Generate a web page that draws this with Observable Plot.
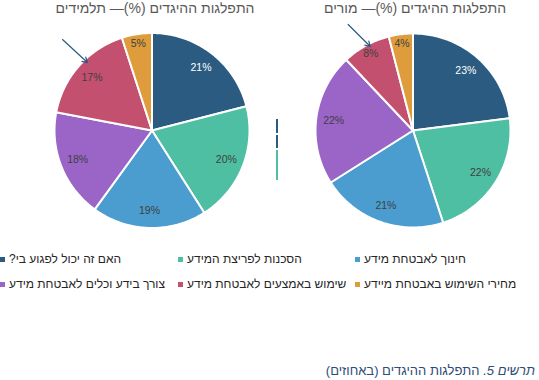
<!DOCTYPE html>
<html><head><meta charset="utf-8">
<script src="https://cdn.jsdelivr.net/npm/d3@7"></script>
<script src="https://cdn.jsdelivr.net/npm/@observablehq/plot@0.6"></script>
<style>
body{margin:0;background:#fff;font-family:"Liberation Sans",Arial,sans-serif;}
#wrap{position:relative;width:539px;height:380px;overflow:hidden;background:#fff;}
.plot{position:absolute;top:0;}
.title{position:absolute;top:0;font-size:14px;color:#595959;direction:rtl;white-space:nowrap;transform:translateX(-50%);}
.leg{position:absolute;display:flex;align-items:center;font-size:12px;color:#262626;white-space:nowrap;}
.leg i{display:inline-block;width:5px;height:5px;margin-right:4px;}
.leg span{direction:rtl;}
.cap{position:absolute;right:4px;font-size:13px;color:#2E4A78;direction:rtl;white-space:nowrap;}
</style></head><body><div id="wrap"></div>
<script>
const categories = ["האם זה יכול לפגוע בי?","הסכנות לפריצת המידע","חינוך לאבטחת מידע","צורך בידע וכלים לאבטחת מידע","שימוש באמצעים לאבטחת מידע","מחירי השימוש באבטחת מיידע"];
const studentValues = [21,20,19,18,17,5];
const teacherValues = [23,22,21,22,8,4];
const colors = ["#2B5B80","#4FBFA3","#4A9DCE","#9A65C7","#C4506F","#DF9C3C"];
const titles = ["התפלגות ההיגדים (%)—  תלמידים","התפלגות ההיגדים (%)—  מורים"];
const captionLead = "תרשים 5.";
const captionRest = " התפלגות ההיגדים (באחוזים)";

const wrap = document.getElementById("wrap");

function pie(values, arrow, width, ml, mr, r) {
  const total = d3.sum(values);
  let acc = 0;
  const slices = values.map((v,i)=>{const a0=acc/total*2*Math.PI; acc+=v; const a1=acc/total*2*Math.PI; return {i, cat:categories[i], v, a0, a1};});
  const pts = [];
  for (const s of slices) {
    pts.push({cat:s.cat, x:0, y:0});
    const n = Math.max(2, Math.ceil((s.a1-s.a0)/(Math.PI/180)));
    for (let k=0;k<=n;k++){const a=s.a0+(s.a1-s.a0)*k/n; pts.push({cat:s.cat,x:Math.sin(a),y:Math.cos(a)});}
  }
  const labels = slices.map(s=>{const m=(s.a0+s.a1)/2; const rr = s.v<10?0.9:0.82; return {...s, x:rr*Math.sin(m), y:rr*Math.cos(m)};});
  return Plot.plot({
    width, height:235, marginLeft:ml, marginRight:mr, marginTop:130-r, marginBottom:235-130-r,
    style:{fontFamily:"Liberation Sans, Arial, sans-serif", background:"white", overflow:"visible"},
    x:{domain:[-1,1],axis:null}, y:{domain:[-1,1],axis:null},
    color:{domain:categories, range:colors},
    marks:[
      Plot.line(pts,{x:"x",y:"y",z:"cat",fill:"cat",stroke:"white",strokeWidth:2,curve:"linear-closed",strokeLinejoin:"round"}),
      Plot.text(labels.filter(d=>d.i===0),{x:"x",y:"y",text:d=>d.v+"%",fill:"white",fontSize:10.5}),
      Plot.text(labels.filter(d=>d.i!==0),{x:"x",y:"y",text:d=>d.v+"%",fill:"#404040",fontSize:10.5}),
      Plot.arrow([arrow],{x1:"x1",y1:"y1",x2:"x2",y2:"y2",stroke:"#2B5B80",strokeWidth:1.2,headLength:7})
    ]
  });
}

const p1 = pie(studentValues, {x1:-0.918,y1:0.933,x2:-0.662,y2:0.697}, 270, 54, 21, 97.5);
p1.classList.add("plot"); p1.style.left="0px"; wrap.appendChild(p1);
const p2 = pie(teacherValues, {x1:-0.665,y1:1.093,x2:-0.438,y2:0.866}, 269, 45, 29, 97);
p2.classList.add("plot"); p2.style.left="270px"; wrap.appendChild(p2);

[[155,titles[0]],[415,titles[1]]].forEach(([cx,t])=>{
  const d=document.createElement("div"); d.className="title"; d.style.left=cx+"px"; d.textContent=t; wrap.appendChild(d);
});

// small stray marker lines between the pies
[["#2B5B80",119,14],["#2B5B80",135,13],["#4FBFA3",150,30]].forEach(([c,t,h])=>{
  const d=document.createElement("div");
  Object.assign(d.style,{position:"absolute",left:"276px",top:t+"px",width:"1.5px",height:h+"px",background:c});
  wrap.appendChild(d);
});

const colX=[0,178,355], rowY=[252,277];
categories.forEach((c,i)=>{
  const d=document.createElement("div"); d.className="leg";
  d.style.left=colX[i%3]+"px"; d.style.top=rowY[Math.floor(i/3)]+"px";
  const m=document.createElement("i"); m.style.background=colors[i];
  const s=document.createElement("span"); s.textContent=c;
  d.appendChild(m); d.appendChild(s); wrap.appendChild(d);
});

const cap=document.createElement("div"); cap.className="cap"; cap.style.top="363px";
const em=document.createElement("i"); em.textContent=captionLead;
cap.appendChild(em); cap.appendChild(document.createTextNode(captionRest));
wrap.appendChild(cap);
</script>
</body></html>
